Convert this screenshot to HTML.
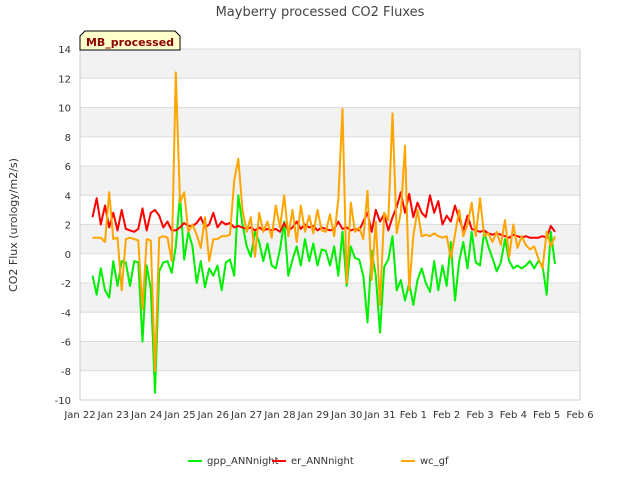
<!DOCTYPE html>
<html><head><meta charset="utf-8">
<style>
body{margin:0;background:#fff;font-family:"Liberation Sans","DejaVu Sans",sans-serif;}
svg text{font-family:"DejaVu Sans","Liberation Sans",sans-serif;}
</style></head>
<body>
<svg id="chart" width="640" height="480" xmlns="http://www.w3.org/2000/svg">
<rect width="640" height="480" fill="#fff"/>
<g id="bands"></g>
<g id="grid"></g>
<g id="series"></g>
<g id="axes"></g>
<text x="320" y="16" text-anchor="middle" font-size="13" fill="#444">Mayberry processed CO2 Fluxes</text>
<text transform="translate(17,225) rotate(-90)" text-anchor="middle" font-size="11" fill="#333">CO2 Flux (urology/m2/s)</text>
<g>
<path d="M80,50 L80,36 L85,31 L175,31 L180,36 L180,50 Z" fill="#ffffcc" stroke="#000" stroke-width="1"/>
<text x="130" y="46" text-anchor="middle" font-size="11" font-weight="bold" fill="#8b0000">MB_processed</text>
</g>
<g id="legend"></g>
</svg>
<script>
const yTicks=[-10,-8,-6,-4,-2,0,2,4,6,8,10,12,14];
const xTickLabels=["Jan 22","Jan 23","Jan 24","Jan 25","Jan 26","Jan 27","Jan 28","Jan 29","Jan 30","Jan 31","Feb 1","Feb 2","Feb 3","Feb 4","Feb 5","Feb 6"];
const tStart=0.375, tStep=0.125;
const gpp=[-1.5,-2.8,-1,-2.5,-3,-0.5,-2.2,-0.5,
-0.6,-2.2,-0.5,-0.6,-6,-0.8,-2.4,-9.5,
-1.2,-0.6,-0.5,-1.3,0.5,4,-0.4,1.5,
0.5,-2,-0.5,-2.3,-1,-1.5,-0.8,-2.5,
-0.6,-0.4,-1.5,4,2,0.5,-0.2,1.5,
0.8,-0.5,0.7,-0.8,-1,0.3,2.2,-1.5,
-0.4,0.5,-0.8,1,-0.5,0.7,-0.8,0.3,
0.2,-0.8,0.5,-1.5,1.5,-2.2,0.5,-0.3,
-0.4,-1.5,-4.7,0.2,-1.5,-5.4,-0.9,-0.4,
1.2,-2.5,-1.8,-3.2,-2,-3.5,-1.8,-1,
-2,-2.6,-0.5,-2.5,-0.8,-2.2,0.8,-3.2,
-0.5,0.8,-1,1.5,-0.6,-0.8,1.5,0.5,
-0.3,-1.2,-0.6,1,-0.5,-1,-0.8,-1,
-0.8,-0.5,-1,-0.5,-0.8,-2.8,1.5,-0.7];
const er=[2.5,3.8,2,3.3,1.8,2.8,1.6,3,
1.7,1.6,1.5,1.7,3.1,1.6,2.8,3,
2.6,1.8,2.2,1.6,1.6,1.8,2.1,1.9,
1.9,2.1,2.5,1.8,2,2.8,1.8,2.2,
2,2.1,1.8,1.9,1.8,1.7,1.8,1.6,
1.8,1.6,1.7,1.6,1.7,1.5,2.1,1.6,
1.8,2.2,1.7,2,1.8,1.9,1.6,1.8,
1.7,1.6,1.7,2.2,1.7,1.8,1.6,1.7,
1.6,2.2,2.8,1.5,3,2.2,2.7,1.6,
2.5,3.2,4.2,2.8,4.1,2.5,3.5,2.8,
2.5,4,2.8,3.6,2,2.6,2.2,3.3,
2.4,1.6,2.6,1.7,1.6,1.5,1.6,1.4,
1.3,1.4,1.3,1.2,1.1,1.3,1.2,1.1,
1.2,1.1,1.1,1.1,1.2,1.1,1.9,1.5];
const wc=[1.1,1.1,1.1,0.8,4.2,1,1.1,-2.5,
1,1.1,1,0.9,-3.8,1,0.9,-8,
1.1,1.2,1.1,-0.5,12.4,3.5,4.2,1.5,
2,1.3,0.4,2.5,-0.5,1,1,1.2,
1.2,1.3,5,6.5,3,1.5,2.5,-0.2,
2.8,1.5,2.2,1.1,3.3,1.8,4,1.2,
3,0.8,3.3,1.5,2.6,1.4,3,1.6,
1.5,2.7,1.2,3.7,9.9,-2,3.5,1.5,
1.8,1,4.3,-1.8,2.2,-3.5,2.8,2.3,
9.6,1.4,2.8,7.4,-2.5,1.2,3,1.2,
1.3,1.2,1.4,1.2,1.1,1.2,-0.3,1.3,
3,1.2,2,3.5,1.2,3.8,1.2,1.4,
0.8,1.5,0.6,2.3,-0.2,2,0.4,1.2,
0.6,0.3,0.5,-0.3,-1,1.5,0.5,1.2];

const L=80,R=580,T=49,B=400;
const x=d=>L+(R-L)*d/15;
const y=v=>T+(B-T)*(14-v)/24;
const NS="http://www.w3.org/2000/svg";
function mk(tag,attrs,parent){const e=document.createElementNS(NS,tag);for(const k in attrs)e.setAttribute(k,attrs[k]);parent.appendChild(e);return e;}
const bands=document.getElementById('bands'),grid=document.getElementById('grid'),axes=document.getElementById('axes'),series=document.getElementById('series'),legend=document.getElementById('legend');
for(let v=12;v>=-10;v-=4){
 const r=mk('rect',{x:L,y:y(v+2),width:R-L,height:y(v)-y(v+2),fill:'#f2f2f2'},bands);
 
 
}
yTicks.forEach(v=>{
 const l=mk('line',{x1:L,x2:R,y1:y(v),y2:y(v),stroke:'#dcdcdc','stroke-width':1},grid);
 
 
 const t=mk('text',{x:L-9,y:y(v)+4,'text-anchor':'end','font-size':'10',fill:'#333'},axes);
 t.textContent=v;
 
 
});
xTickLabels.forEach((s,i)=>{
 const t=mk('text',{x:x(i),y:B+18,'text-anchor':'middle','font-size':'10',fill:'#333'},axes);
 t.textContent=s;
 
 
});
const ax=mk('path',{d:`M${L},${T} L${L},${B} L${R},${B} L${R},${T}`,fill:'none',stroke:'#ccc','stroke-width':1},axes);


function line(arr,color,name){
 const d=arr.map((v,i)=>(i?'L':'M')+x(tStart+i*tStep).toFixed(1)+','+y(v).toFixed(1)).join(' ');
 const p=mk('path',{d:d,fill:'none',stroke:color,'stroke-width':2,'stroke-linejoin':'round'},series);
 
 
}
line(gpp,'#00ee00','gpp-annnight-line');
line(er,'#ff0000','er-annnight-line');
line(wc,'#ffa500','wc-gf-line');
const items=[['gpp_ANNnight','#00ee00',188],['er_ANNnight','#ff0000',272],['wc_gf','#ffa500',401]];
items.forEach(it=>{
 const g=mk('g',{},legend);
 
 
 mk('line',{x1:it[2],x2:it[2]+14,y1:461,y2:461,stroke:it[1],'stroke-width':2},g);
 const t=mk('text',{x:it[2]+19,y:464,'font-size':'10',fill:'#333'},g);
 t.textContent=it[0];
});
</script>
</body></html>
